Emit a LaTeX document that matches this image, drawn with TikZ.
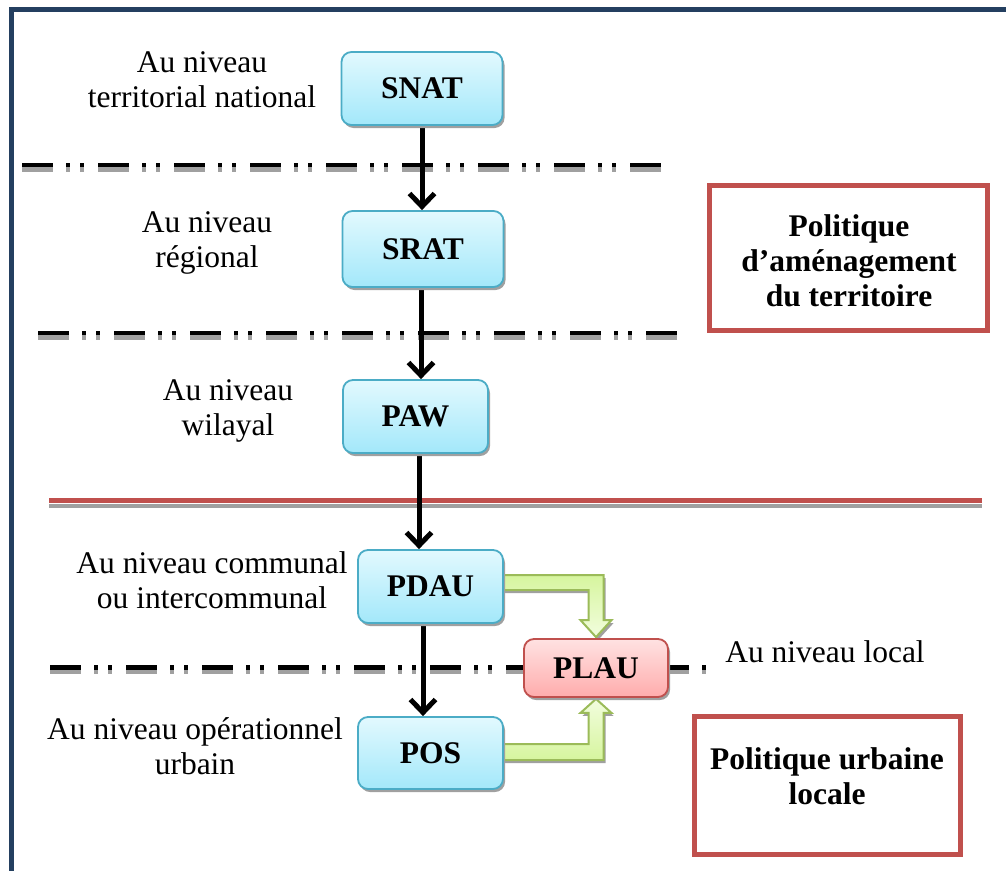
\documentclass[tikz,border=0pt]{standalone}
\usepackage{fontspec}
\setmainfont{Liberation Serif}
\usetikzlibrary{arrows.meta,shadows,calc}

\definecolor{framecol}{RGB}{36,63,96}
\definecolor{boxline}{RGB}{75,172,198}
\definecolor{boxtop}{RGB}{226,249,254}
\definecolor{boxbot}{RGB}{163,232,250}
\definecolor{redline}{RGB}{192,80,77}
\definecolor{plautop}{RGB}{255,226,226}
\definecolor{plaubot}{RGB}{255,172,172}
\definecolor{greenline}{RGB}{155,187,89}
\definecolor{greenlight}{RGB}{242,253,222}
\definecolor{greendeep}{RGB}{214,245,158}
\definecolor{shadowgray}{RGB}{160,160,160}

\pgfdeclarelayer{background}
\pgfsetlayers{background,main}

\begin{document}
\begin{tikzpicture}[x=1pt,y=-1pt,
  every node/.style={font=\fontsize{31.5}{35}\selectfont, align=center, inner sep=0pt},
  boxshadow/.style={drop shadow={shadow xshift=2pt, shadow yshift=-3pt, fill=shadowgray, opacity=1}},
  planbox/.style={draw=boxline, line width=1.8pt, rounded corners=10pt,
    top color=boxtop, bottom color=boxbot, boxshadow,
    font=\fontsize{31.5}{35}\selectfont\bfseries},
  localbox/.style={draw=redline, line width=1.8pt, rounded corners=10pt,
    top color=plautop, bottom color=plaubot, boxshadow,
    font=\fontsize{31.5}{35}\selectfont\bfseries},
  policybox/.style={draw=redline, line width=5pt, fill=white},
  boldtext/.style={font=\fontsize{31.5}{35}\selectfont\bfseries},
  levelsep/.style={line width=4.5pt, dash pattern=on 31pt off 13pt on 4pt off 10pt on 4pt off 14pt},
  flow/.style={line width=5pt, -{Straight Barb[length=13pt,width=25pt,line width=5pt]}},
  greenflow/.style={draw=greenline, line width=2pt, line join=miter, boxshadow},
]
\useasboundingbox (0,0) rectangle (1006,870);

% page frame (only the top and left edges fall inside the page)
\draw[framecol, line width=5pt, line join=miter] (11,875) -- (11,9.5) -- (1012,9.5);

% planning instruments
\node[planbox, minimum width=161pt, minimum height=73pt] (SNAT) at (422,88.5) {SNAT};
\node[planbox, minimum width=161pt, minimum height=76pt] (SRAT) at (423,249) {SRAT};
\node[planbox, minimum width=145pt, minimum height=73pt] (PAW) at (415.5,416.5) {PAW};
\node[planbox, minimum width=145pt, minimum height=73pt] (PDAU) at (430.5,586.5) {PDAU};
\node[planbox, minimum width=145pt, minimum height=72pt] (POS) at (430.5,753) {POS};
\node[localbox, minimum width=144pt, minimum height=58pt] (PLAU) at (596,668) {PLAU};

\begin{pgfonlayer}{background}
  % level separators with their grey shadows
  \draw[levelsep, shadowgray] (22,169.5) -- (663,169.5);
  \draw[levelsep] (22,165) -- (663,165);
  \draw[levelsep, shadowgray] (38,337.5) -- (678,337.5);
  \draw[levelsep] (38,333) -- (678,333);
  \draw[levelsep, shadowgray] (50,672) -- (710,672);
  \draw[levelsep] (50,667.5) -- (710,667.5);

  % boundary between the two policies
  \draw[shadowgray, line width=4pt] (49,505.5) -- (982,505.5);
  \draw[redline, line width=5pt] (49,500.5) -- (982,500.5);

  % block arrows feeding PLAU
  \path[greenflow, top color=greendeep, bottom color=greenlight]
    let \p1=(PDAU.east), \p2=(PLAU.north) in
    (\x1-4pt,\y1+11.5pt) -- (\x2+7.5pt,\y1+11.5pt) -- (\x2+7.5pt,\y2+18pt)
    -- (\x2+15.5pt,\y2+18pt) -- (\x2,\y2+1pt) -- (\x2-15.5pt,\y2+18pt)
    -- (\x2-7.5pt,\y2+18pt) -- (\x2-7.5pt,\y1-3.5pt) -- (\x1-4pt,\y1-3.5pt) -- cycle;
  \path[greenflow, top color=greenlight, bottom color=greendeep]
    let \p1=(POS.east), \p2=(PLAU.south) in
    (\x1-4pt,\y1+9pt) -- (\x2-7.5pt,\y1+9pt) -- (\x2-7.5pt,\y2-15pt)
    -- (\x2-15.5pt,\y2-15pt) -- (\x2,\y2-1pt) -- (\x2+15.5pt,\y2-15pt)
    -- (\x2+7.5pt,\y2-15pt) -- (\x2+7.5pt,\y1-7pt) -- (\x1-4pt,\y1-7pt) -- cycle;

  % hierarchy arrows
  \coordinate (a1) at (SNAT.south);
  \coordinate (a2) at ([xshift=-2pt]SRAT.south);
  \coordinate (a3) at ([xshift=3.5pt]PAW.south);
  \coordinate (a4) at ([xshift=-7.5pt]PDAU.south);
  \draw[flow] (a1) -- (a1 |- SRAT.north);
  \draw[flow] (a2) -- (a2 |- PAW.north);
  \draw[flow] (a3) -- (a3 |- PDAU.north);
  \draw[flow] (a4) -- (a4 |- POS.north);
\end{pgfonlayer}

% level labels
\node (l1) at (202,79.5) {Au niveau\\territorial national};
\node (l2) at (207,243) {Au niveau\\régional};
\node (l3) at (228,411) {Au niveau\\wilayal};
\node (l4) at (212,580) {Au niveau communal\\ou intercommunal};
\node (l5) at (195,746) {Au niveau opérationnel\\urbain};
\node (l6) at (825,652) {Au niveau local};

% policy boxes
\node[policybox, minimum width=278pt, minimum height=145pt] (amenag) at (848.5,258) {};
\node[boldtext] (amenagtext) at (849,261) {Politique\\d’aménagement\\du territoire};
\node[policybox, minimum width=266pt, minimum height=138pt] (urbaine) at (827.5,785.5) {};
\node[boldtext] (urbainetext) at (827,776) {Politique urbaine\\locale};
\end{tikzpicture}
\end{document}
